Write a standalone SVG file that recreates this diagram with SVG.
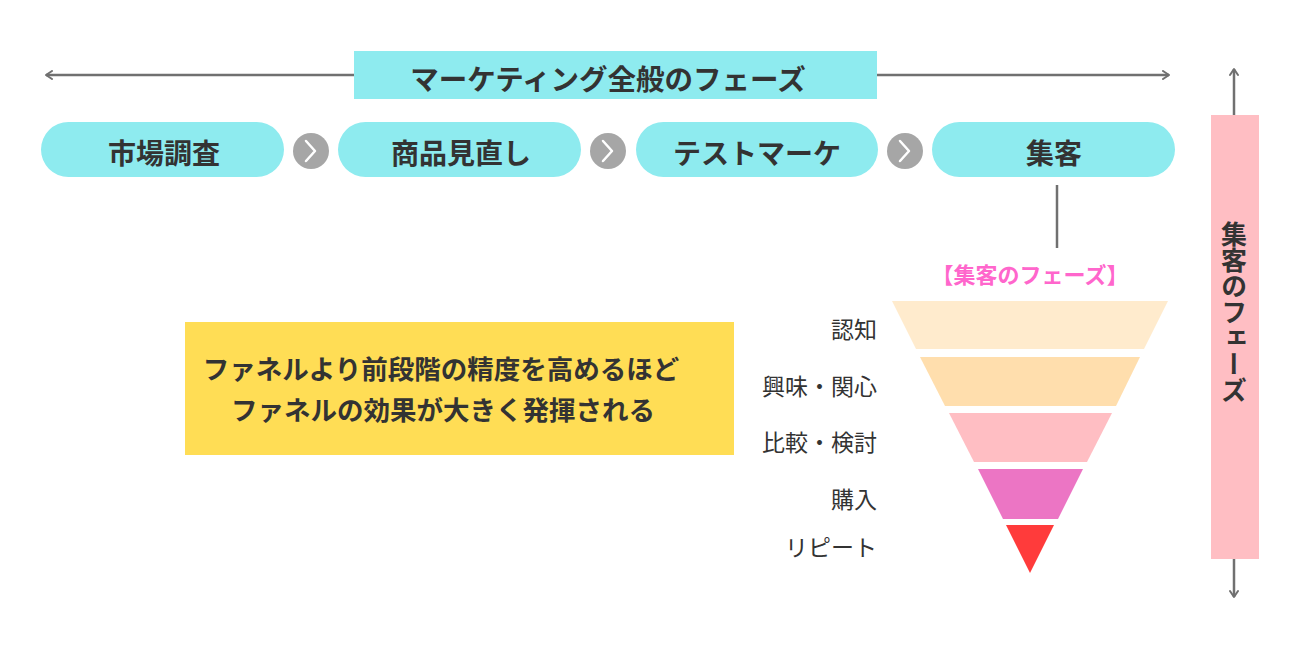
<svg xmlns="http://www.w3.org/2000/svg" width="1300" height="650" viewBox="0 0 1300 650">
<style>
.t{font-family:"Noto Sans CJK JP","Noto Sans",sans-serif;fill:#333333;dominant-baseline:central;text-anchor:middle}
.b{font-weight:700}
.pill{fill:#8EEBEF}
.lbl{font-family:"Noto Sans CJK JP","Noto Sans",sans-serif;fill:#333333;font-size:23px;text-anchor:end;dominant-baseline:central}
.ln{stroke:#707070;stroke-width:2.5;fill:none}
.chev{fill:#A6A6A6}
.chevl{stroke:#ffffff;stroke-width:2.5;fill:none;stroke-linecap:round;stroke-linejoin:round}
</style>
<defs>
<marker id="ah" viewBox="0 0 10 10" refX="8" refY="5" markerWidth="10" markerHeight="10" markerUnits="userSpaceOnUse" orient="auto-start-reverse">
<path d="M2,1 L8,5 L2,9" stroke="#707070" stroke-width="2" fill="none" stroke-linecap="round" stroke-linejoin="round"/>
</marker>
</defs>
<rect width="1300" height="650" fill="#ffffff"/>
<g id="connectors">
<line class="ln" x1="46" y1="75" x2="354" y2="75" marker-start="url(#ah)"/>
<line class="ln" x1="877" y1="75" x2="1169" y2="75" marker-end="url(#ah)"/>
<line class="ln" x1="1234" y1="69" x2="1234" y2="115" marker-start="url(#ah)"/>
<line class="ln" x1="1234" y1="559" x2="1234" y2="597" marker-end="url(#ah)"/>
<line class="ln" x1="1057" y1="185" x2="1057" y2="248"/>
<g id="chevron1"><circle class="chev" cx="311" cy="151" r="18"/><path class="chevl" d="M306,141 L315,151 L306,161"/></g>
<g id="chevron2"><circle class="chev" cx="608" cy="151" r="18"/><path class="chevl" d="M603,141 L612,151 L603,161"/></g>
<g id="chevron3"><circle class="chev" cx="905" cy="151" r="18"/><path class="chevl" d="M900,141 L909,151 L900,161"/></g>
</g>
<g id="header">
<rect x="354" y="51" width="523" height="48" fill="#8EEBEF"/>
<text class="t b" x="608" y="77" font-size="28.5">マーケティング全般のフェーズ</text>
</g>
<g id="step1"><rect class="pill" x="41" y="122" width="243" height="55" rx="27.5"/><text class="t b" x="164" y="152" font-size="28">市場調査</text></g>
<g id="step2"><rect class="pill" x="338" y="122" width="243" height="55" rx="27.5"/><text class="t b" x="461" y="152" font-size="28">商品見直し</text></g>
<g id="step3"><rect class="pill" x="636" y="122" width="242" height="55" rx="27.5"/><text class="t b" x="757" y="152" font-size="28">テストマーケ</text></g>
<g id="step4"><rect class="pill" x="932" y="122" width="243" height="55" rx="27.5"/><text class="t b" x="1054" y="152" font-size="28">集客</text></g>
<g id="funnel-title"><text class="t b" x="1030" y="273" font-size="22" style="fill:#FF66CC">【集客のフェーズ】</text></g>
<g id="funnel1"><polygon points="892,301 1168,301 1144,349 916,349" fill="#FFEBCD"/><text class="lbl" x="877" y="328">認知</text></g>
<g id="funnel2"><polygon points="920,357 1140,357 1116,406 945,406" fill="#FFDEAD"/><text class="lbl" x="877" y="385">興味・関心</text></g>
<g id="funnel3"><polygon points="949,413 1112,413 1087,462 974,462" fill="#FFBEC3"/><text class="lbl" x="877" y="441">比較・検討</text></g>
<g id="funnel4"><polygon points="978,469 1083,469 1058,519 1003,519" fill="#EC75C4"/><text class="lbl" x="877" y="498">購入</text></g>
<g id="funnel5"><polygon points="1006,525 1054,525 1030,573" fill="#FF3B3B"/><text class="lbl" x="877" y="546">リピート</text></g>
<g id="message">
<rect x="185" y="322" width="549" height="133" fill="#FFDD55"/>
<text class="t b" x="441" y="367" font-size="26.5">ファネルより前段階の精度を高めるほど</text>
<text class="t b" x="443" y="408" font-size="26.5">ファネルの効果が大きく発揮される</text>
</g>
<g id="side-bar">
<rect x="1211" y="115" width="48" height="444" fill="#FFBEC3"/>
<text class="t b" x="1234" y="312" font-size="26" style="writing-mode:vertical-rl;dominant-baseline:auto">集客のフェーズ</text>
</g>
</svg>
